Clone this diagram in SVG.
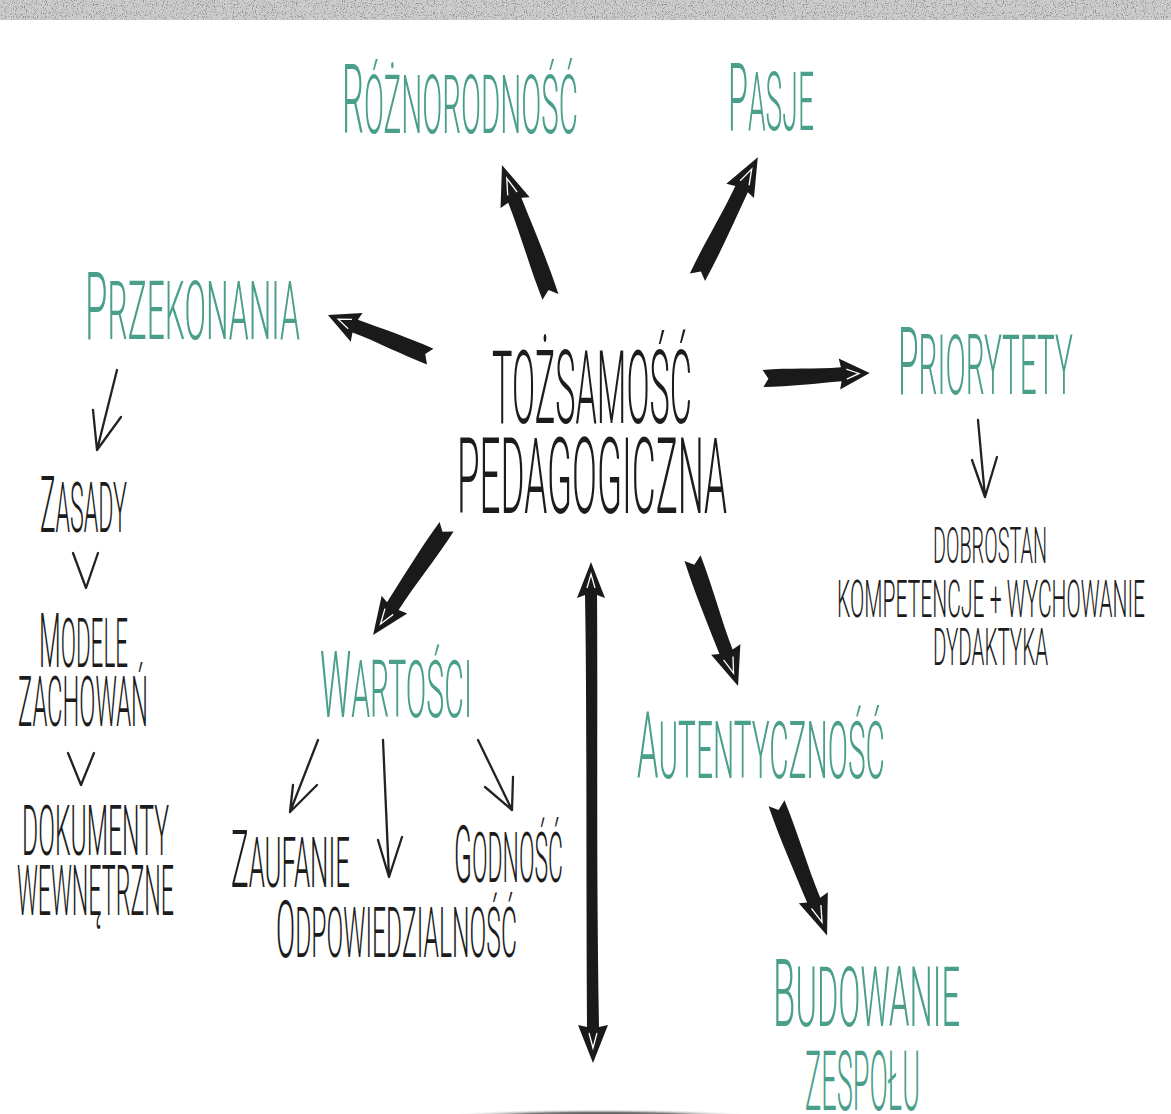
<svg xmlns="http://www.w3.org/2000/svg" xmlns:xlink="http://www.w3.org/1999/xlink" width="1171" height="1114" viewBox="0 0 1171 1114">
<style>
text{font-family:Roboto,Lato,"Liberation Sans",sans-serif;font-weight:300}
.t{fill:#4a9f8b}
.k{fill:#1c1c1c}
.thin{fill:none;stroke:#222;stroke-width:2.3;stroke-linecap:round;stroke-linejoin:round}
.brush{fill:#1a1a1a}
.hl{fill:none;stroke:#ffffff;stroke-width:1.3}
</style>
<defs>
<filter id="grain" x="0" y="0" width="100%" height="100%">
<feTurbulence type="fractalNoise" baseFrequency="0.9" numOctaves="2" seed="4"/>
<feColorMatrix type="matrix" values="0 0 0 0 0.25  0 0 0 0 0.25  0 0 0 0 0.25  0 0 0 4 -2.1"/>
</filter>
<radialGradient id="shadow" cx="0.5" cy="0.5" r="0.5">
<stop offset="0" stop-color="#000" stop-opacity="0.95"/>
<stop offset="0.6" stop-color="#222" stop-opacity="0.6"/>
<stop offset="1" stop-color="#fff" stop-opacity="0"/>
</radialGradient>
<g id="brush">
<path class="brush" d="M0,-8 C30,-9 60,-6 88,-7 L86,-16 L120,0 L86,15 L88,7 C60,8 30,10 0,9 L6,1 Z"/>
<path class="hl" d="M94,-5 L108,0 L94,5"/>
</g>
</defs>
<rect x="0" y="0" width="1171" height="1114" fill="#ffffff"/>
<rect x="0" y="0" width="1171" height="20" fill="#cdcdcd"/>
<rect x="0" y="0" width="1171" height="20" fill="#cdcdcd" filter="url(#grain)"/>
<ellipse cx="600" cy="1117" rx="165" ry="8" fill="url(#shadow)"/>

<g id="connectors">
<use xlink:href="#brush" transform="translate(550,297) rotate(-110) scale(1.17,1)"/>
<use xlink:href="#brush" transform="translate(697,277) rotate(-63.1) scale(1.12,1)"/>
<use xlink:href="#brush" transform="translate(430,357) rotate(-157.6) scale(0.92,1)"/>
<use xlink:href="#brush" transform="translate(763,378) rotate(-2.7) scale(0.89,1)"/>
<use xlink:href="#brush" transform="translate(447,527) rotate(124.4) scale(1.09,1)"/>
<use xlink:href="#brush" transform="translate(693,558) rotate(70.6) scale(1.13,1)"/>
<use xlink:href="#brush" transform="translate(777,803) rotate(69.3) scale(1.18,1)"/>
<path class="brush" d="M591,562 L605,598 L597,595 C598,700 596,850 599,1027 L608,1025 L593,1063 L578,1025 L587,1027 C586,850 587,700 585,595 L577,598 Z"/>
<path class="hl" d="M587,588 L591,574 L595,588"/>
<path class="hl" d="M589,1033 L593,1048 L597,1033"/>
<path class="thin" d="M117,370 L97,450 M93,410 L97,450 L121,417"/>
<path class="thin" d="M73,553 L86,588 L98,553"/>
<path class="thin" d="M68,753 L81,785 L94,753"/>
<path class="thin" d="M318,740 L290,812 M293,785 L290,812 L317,785"/>
<path class="thin" d="M383,740 L389,877 M378,840 L389,877 L402,837"/>
<path class="thin" d="M478,740 L512,810 M485,787 L512,810 L513,777"/>
<path class="thin" d="M978,420 L985,497 M972,460 L985,497 L997,457"/>
</g>

<g id="node-center"><text class="k" x="492" y="423" font-size="102" textLength="200" lengthAdjust="spacingAndGlyphs">TOŻSAMOŚĆ</text>
<text class="k" x="457" y="513" font-size="106" textLength="270" lengthAdjust="spacingAndGlyphs">PEDAGOGICZNA</text></g>
<g id="node-roznorodnosc"><text class="t" x="342" y="133" font-size="82" textLength="236" lengthAdjust="spacingAndGlyphs"><tspan font-size="96">R</tspan>ÓŻNORODNOŚĆ</text></g>
<g id="node-pasje"><text class="t" x="728" y="130" font-size="82" textLength="86" lengthAdjust="spacingAndGlyphs"><tspan font-size="94">P</tspan>ASJE</text></g>
<g id="node-przekonania"><text class="t" x="85" y="339" font-size="82" textLength="215" lengthAdjust="spacingAndGlyphs"><tspan font-size="94">P</tspan>RZEKONANIA</text></g>
<g id="node-priorytety"><text class="t" x="898" y="394" font-size="84" textLength="175" lengthAdjust="spacingAndGlyphs"><tspan font-size="94">P</tspan>RIORYTETY</text></g>
<g id="node-zasady"><text class="k" x="40" y="532" font-size="70" textLength="87" lengthAdjust="spacingAndGlyphs"><tspan font-size="78">Z</tspan>ASADY</text></g>
<g id="node-modele"><text class="k" x="39" y="667" font-size="68" textLength="89" lengthAdjust="spacingAndGlyphs"><tspan font-size="76">M</tspan>ODELE</text>
<text class="k" x="18" y="726" font-size="70" textLength="130" lengthAdjust="spacingAndGlyphs">ZACHOWAŃ</text></g>
<g id="node-dokumenty"><text class="k" x="22" y="855" font-size="70" textLength="147" lengthAdjust="spacingAndGlyphs">DOKUMENTY</text>
<text class="k" x="17" y="915" font-size="70" textLength="157" lengthAdjust="spacingAndGlyphs">WEWNĘTRZNE</text></g>
<g id="node-wartosci"><text class="t" x="320" y="717" font-size="80" textLength="152" lengthAdjust="spacingAndGlyphs"><tspan font-size="92">W</tspan>ARTOŚCI</text></g>
<g id="node-zaufanie"><text class="k" x="231" y="887" font-size="70" textLength="119" lengthAdjust="spacingAndGlyphs"><tspan font-size="80">Z</tspan>AUFANIE</text></g>
<g id="node-godnosc"><text class="k" x="454" y="882" font-size="70" textLength="109" lengthAdjust="spacingAndGlyphs"><tspan font-size="80">G</tspan>ODNOŚĆ</text></g>
<g id="node-odpowiedzialnosc"><text class="k" x="276" y="957" font-size="70" textLength="241" lengthAdjust="spacingAndGlyphs"><tspan font-size="80">O</tspan>DPOWIEDZIALNOŚĆ</text></g>
<g id="node-autentycznosc"><text class="t" x="637" y="778" font-size="80" textLength="248" lengthAdjust="spacingAndGlyphs"><tspan font-size="92">A</tspan>UTENTYCZNOŚĆ</text></g>
<g id="node-budowanie"><text class="t" x="773" y="1026" font-size="84" textLength="187" lengthAdjust="spacingAndGlyphs"><tspan font-size="94">B</tspan>UDOWANIE</text>
<text class="t" x="805" y="1110" font-size="84" textLength="115" lengthAdjust="spacingAndGlyphs">ZESPOŁU</text></g>
<g id="node-dobrostan"><text class="k" x="933" y="563" font-size="50" textLength="114" lengthAdjust="spacingAndGlyphs">DOBROSTAN</text>
<text class="k" x="837" y="617" font-size="52" textLength="308" lengthAdjust="spacingAndGlyphs">KOMPETENCJE + WYCHOWANIE</text>
<text class="k" x="933" y="665" font-size="52" textLength="115" lengthAdjust="spacingAndGlyphs">DYDAKTYKA</text></g>
</svg>
